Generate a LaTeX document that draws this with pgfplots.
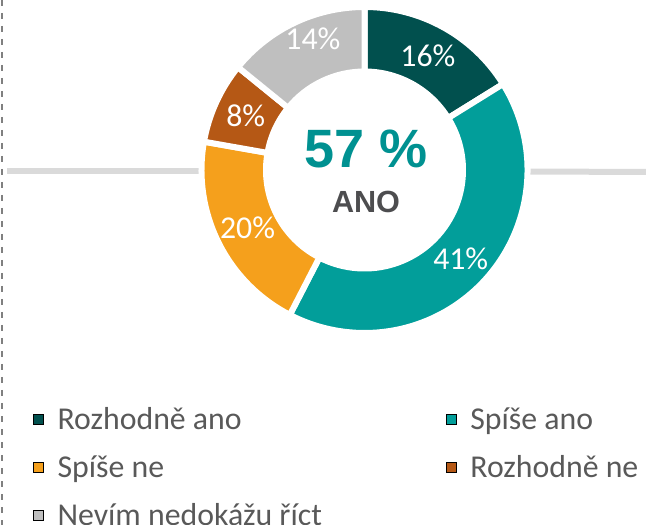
\documentclass[border=0pt]{standalone}
\usepackage{pgfplots}
\pgfplotsset{compat=1.18}
\usepackage{fontspec}
\setmainfont{Carlito}
\newfontfamily\arialfont{Liberation Sans}
\definecolor{cA}{HTML}{01504E}
\definecolor{cB}{HTML}{029E9A}
\definecolor{cC}{HTML}{F5A01C}
\definecolor{cD}{HTML}{B55815}
\definecolor{cE}{HTML}{BFBFBF}
\definecolor{cBig}{HTML}{009191}
\definecolor{cAno}{HTML}{4D4D4F}
\definecolor{cLeg}{HTML}{595959}
\definecolor{cLine}{HTML}{DADADA}
% total of the rounded shares (the reference sums to 99)
\def\tot{99}
% \slice{cumulative start}{value}{colour}{label radius}{label angle shift}
\newcommand\slice[5]{%
  \fill[#3, draw=white, line width=6bp]
    ([shift={({90-(#1)/\tot*360}:163bp)}]axis cs:364.5,355)
    arc[start angle={90-(#1)/\tot*360}, end angle={90-(#1+#2)/\tot*360}, radius=163bp]
    -- ([shift={({90-(#1+#2)/\tot*360}:98.5bp)}]axis cs:364.5,355)
    arc[start angle={90-(#1+#2)/\tot*360}, end angle={90-(#1)/\tot*360}, radius=98.5bp]
    -- cycle;
  \node[text=white, font=\fontsize{31.8bp}{36bp}\selectfont, inner sep=0pt]
    at ([shift={({90-(#1+#2/2)/\tot*360+#5}:#4bp)}]axis cs:364.5,355) {#2\%};
}
\begin{document}
\begin{tikzpicture}
\begin{axis}[
  x=1bp, y=1bp, xmin=0, xmax=646, ymin=0, ymax=525,
  scale only axis, hide axis, clip=false,
  legend columns=2,
  legend image code/.code={\fill[#1] (0bp,5bp) rectangle (10bp,15bp);},
  legend style={
    draw=none, fill=none, at={(axis cs:30,120)}, anchor=north west,
    font=\fontsize{31.8bp}{36bp}\selectfont, text=cLeg,
    nodes={inner sep=0pt, text height=22bp, text depth=7bp, anchor=base west},
    row sep=19bp,
    /tikz/every odd column/.append style={column sep=14bp},
    /tikz/every even column/.append style={column sep=124bp},
  },
]
% frame lines
\addplot[cLine, line width=6bp, forget plot] coordinates {(7,354) (201,354)};
\addplot[cLine, line width=6bp, forget plot] coordinates {(528,353.5) (646,353)};
\addplot[color=gray, line width=1.6bp, dash pattern=on 6bp off 7bp, forget plot] coordinates {(2,525) (2,0)};
% donut
\slice{0}{16}{cA}{130.5}{0}
\slice{16}{41}{cB}{131}{0}
\slice{57}{20}{cC}{130.5}{0}
\slice{77}{8}{cD}{130.5}{0}
\slice{85}{14}{cE}{141}{-4}
% centre text
\node[anchor=base, text=cBig, font=\arialfont\bfseries\fontsize{54bp}{60bp}\selectfont, inner sep=0pt] at (axis cs:366,357) {57 \%};
\node[anchor=base, text=cAno, font=\arialfont\bfseries\fontsize{30.6bp}{36bp}\selectfont, inner sep=0pt] at (axis cs:366,312.5) {ANO};
% legend
\addlegendimage{fill=cA}\addlegendentry{Rozhodně ano}
\addlegendimage{fill=cB}\addlegendentry{Spíše ano}
\addlegendimage{fill=cC}\addlegendentry{Spíše ne}
\addlegendimage{fill=cD}\addlegendentry{Rozhodně ne}
\addlegendimage{fill=cE}\addlegendentry{Nevím nedokážu říct}
\coordinate (BL) at (axis cs:0,0);
\coordinate (TR) at (axis cs:646,525);
\end{axis}
\pgfresetboundingbox
\path[use as bounding box] (BL) rectangle (TR);
\end{tikzpicture}
\end{document}
